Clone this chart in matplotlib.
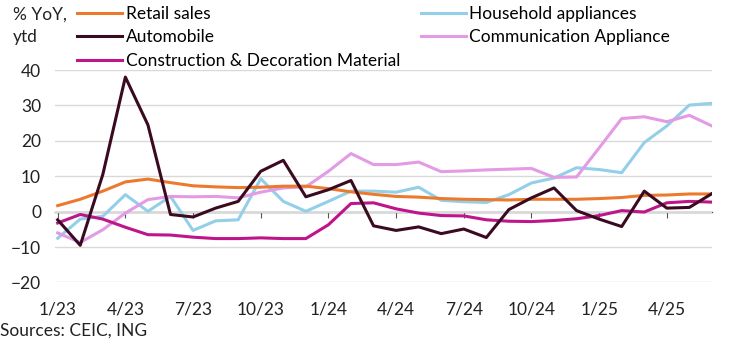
import numpy as np
import matplotlib.pyplot as plt

plt.rcParams['font.family'] = ['Lato', 'DejaVu Sans']

# monthly, 1/23 .. 6/25 (ytd, % YoY)
months = np.arange(30)
tick_pos = [0, 3, 6, 9, 12, 15, 18, 21, 24, 27]
tick_labels = ["1/23", "4/23", "7/23", "10/23", "1/24", "4/24", "7/24", "10/24", "1/25", "4/25"]

retail = [1.7, 3.5, 5.8, 8.4, 9.2, 8.2, 7.3, 7.0, 6.8, 6.9, 7.2, 7.2,
          6.5, 5.6, 4.9, 4.3, 4.1, 3.7, 3.5, 3.4, 3.3, 3.5, 3.5, 3.5,
          3.7, 4.0, 4.6, 4.7, 5.0, 5.0]
auto = [-2.3, -9.5, 10.5, 38.0, 24.5, -0.8, -1.5, 1.0, 2.9, 11.4, 14.5, 4.2,
        6.2, 8.8, -4.0, -5.3, -4.3, -6.2, -4.9, -7.3, 0.6, 3.9, 6.7, 0.3,
        -2.1, -4.2, 5.8, 1.0, 1.2, 5.1]
construction = [-3.2, -0.8, -2.1, -4.4, -6.5, -6.6, -7.2, -7.6, -7.6, -7.4, -7.6, -7.6,
                -3.7, 2.3, 2.5, 0.8, -0.4, -1.1, -1.2, -2.3, -2.7, -2.8, -2.5, -2.0,
                -1.1, 0.3, -0.1, 2.5, 2.9, 2.7]
household = [-7.5, -2.1, -1.3, 4.8, 0.1, 4.3, -5.3, -2.6, -2.3, 9.3, 2.9, 0.1,
             2.9, 5.8, 5.8, 5.5, 6.9, 3.2, 2.8, 2.6, 4.8, 8.1, 9.5, 12.4,
             11.9, 11.0, 19.5, 24.2, 30.1, 30.6]
communication = [-6.0, -8.7, -5.1, -0.4, 3.4, 4.3, 4.2, 4.3, 3.9, 5.5, 6.7, 7.0,
                 11.4, 16.4, 13.3, 13.3, 14.0, 11.3, 11.5, 11.8, 12.0, 12.2, 9.7, 9.8,
                 18.0, 26.3, 26.8, 25.4, 27.2, 24.2]

fig = plt.figure(figsize=(7.44, 3.43), dpi=100)
ax = fig.add_axes([0.0739, 0.1764, 0.883, 0.6195])

lw = 2.2
ax.plot(months, retail, color='#EC7A2E', lw=lw, label='Retail sales', zorder=3)
ax.plot(months, auto, color='#3A0B20', lw=lw, label='Automobile', zorder=5)
ax.plot(months, construction, color='#BE158A', lw=lw, label='Construction & Decoration Material', zorder=4)
ax.plot(months, household, color='#93CFE8', lw=lw, label='Household appliances', zorder=2)
ax.plot(months, communication, color='#E29BE4', lw=lw, label='Communication Appliance', zorder=2)

ax.set_xlim(-0.12, 29.0)
ax.set_ylim(-20, 40)
ax.set_yticks([-20, -10, 0, 10, 20, 30, 40])
ax.grid(axis='y', color='#D9D9D9', lw=1)
ax.set_axisbelow(True)
for s in ax.spines.values():
    s.set_visible(False)

ax.set_xticks(tick_pos)
ax.set_xticklabels(tick_labels)
ax.tick_params(axis='x', length=0, pad=14, labelsize=12.5, colors='#222222')
ax.tick_params(axis='y', length=0, pad=10, labelsize=12.5, colors='#222222')

# zero line with small ticks
zero = ax.secondary_xaxis(20 / 60)
zero.set_xticks(tick_pos)
zero.tick_params(axis='x', length=4, width=0.8, colors='#555555', labelbottom=False)
zero.spines['bottom'].set_color('#555555')
zero.spines['bottom'].set_linewidth(1.0)

fig.legend(loc='upper left', bbox_to_anchor=(77 / 744, 1 - 6 / 343), ncol=2,
           frameon=False, fontsize=12.5, borderpad=0, borderaxespad=0,
           handlelength=2.6, handletextpad=0.2, columnspacing=1.2, labelspacing=0.42)

fig.text(13 / 744, 1 - 15 / 343, '% YoY,', fontsize=12.5, va='center', color='#222222')
fig.text(13 / 744, 1 - 37 / 343, 'ytd', fontsize=12.5, va='center', color='#222222')
fig.text(0.0, 1 - 331 / 343, 'Sources: CEIC, ING', fontsize=12.5, va='center', color='#222222')

plt.savefig('out.png', dpi=100)
